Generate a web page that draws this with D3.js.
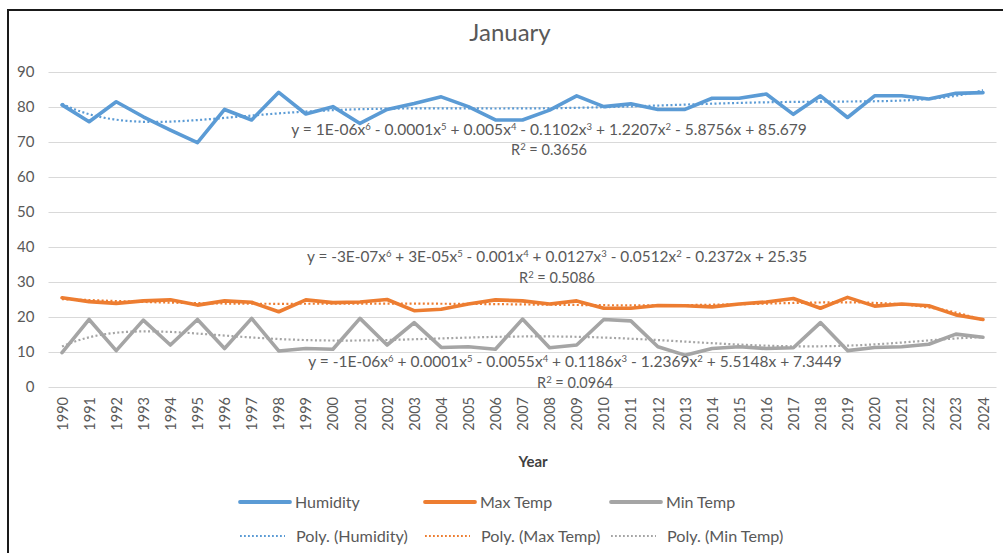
<!DOCTYPE html>
<html><head><meta charset="utf-8">
<script src="https://cdn.jsdelivr.net/npm/d3@7"></script>
<style>
html,body{margin:0;padding:0;background:#fff;}
svg{display:block;font-family:Lato,"Open Sans",sans-serif;}
</style></head>
<body>
<svg id="chart" width="1003" height="553"></svg>
<script>
const years = [1990,1991,1992,1993,1994,1995,1996,1997,1998,1999,2000,2001,2002,2003,2004,2005,2006,2007,2008,2009,2010,2011,2012,2013,2014,2015,2016,2017,2018,2019,2020,2021,2022,2023,2024];
const humidity = [80.6,75.8,81.5,77.2,73.4,69.8,79.3,76.3,84.2,78,80.1,75.3,79.3,81,82.9,80.1,76.3,76.3,79.1,83.2,80.1,80.9,79.3,79.3,82.5,82.5,83.7,77.9,83.2,77,83.2,83.2,82.3,83.9,84.1];
const maxTemp = [25.5,24.4,23.9,24.6,24.9,23.4,24.6,24.2,21.5,24.9,24.1,24.3,25,21.8,22.2,23.7,24.9,24.6,23.7,24.6,22.5,22.5,23.3,23.2,22.9,23.7,24.3,25.3,22.5,25.6,23.1,23.7,23.2,20.6,19.3];
const minTemp = [9.8,19.3,10.4,19.1,12,19.3,11,19.6,10.3,11,10.8,19.6,12,18.4,11.3,11.5,10.8,19.4,11.2,12,19.3,18.9,11.5,9.1,11,11.5,11,11.2,18.4,10.4,11.3,11.5,12.2,15.1,14.2];
const yTicks = [0,10,20,30,40,50,60,70,80,90];
const seriesNames = ["Humidity","Max Temp","Min Temp"];
const trendNames = ["Poly. (Humidity)","Poly. (Max Temp)","Poly. (Min Temp)"];
const colors = ["#5B9BD5","#ED7D31","#A5A5A5"];
const title = "January";
const xTitle = "Year";
// trendline equations as displayed (parts: [text, superscript])
const equations = [
  [["y = 1E-06x","6"],[" - 0.0001x","5"],[" + 0.005x","4"],[" - 0.1102x","3"],[" + 1.2207x","2"],[" - 5.8756x + 85.679",""]],
  [["y = -3E-07x","6"],[" + 3E-05x","5"],[" - 0.001x","4"],[" + 0.0127x","3"],[" - 0.0512x","2"],[" - 0.2372x + 25.35",""]],
  [["y = -1E-06x","6"],[" + 0.0001x","5"],[" - 0.0055x","4"],[" + 0.1186x","3"],[" - 1.2369x","2"],[" + 5.5148x + 7.3449",""]]
];
const r2 = ["0.3656","0.5086","0.0964"];

const data = [humidity, maxTemp, minTemp];
const svg = d3.select("#chart");
const plot = {left:48.5, right:996.5, top:72, bottom:387};

svg.append("rect").attr("width",1003).attr("height",553).attr("fill","#fff");
svg.append("path").attr("d","M8,553V10H1003").attr("fill","none").attr("stroke","#1a1a1a").attr("stroke-width",2);

const x = d3.scalePoint().domain(years).range([plot.left, plot.right]).padding(0.5);
const y = d3.scaleLinear().domain([0,90]).range([plot.bottom, plot.top]);

// y axis + gridlines
const ya = svg.append("g").attr("transform",`translate(${plot.left},0)`)
  .call(d3.axisLeft(y).tickValues(yTicks).tickSize(-(plot.right-plot.left)).tickPadding(14));
ya.select(".domain").remove();
ya.selectAll(".tick line").attr("stroke","#d9d9d9").attr("stroke-width",1);
ya.selectAll(".tick text").attr("fill","#595959").attr("font-size","15px").attr("font-family","Lato");

// x axis
const xa = svg.append("g").attr("transform",`translate(0,${plot.bottom})`)
  .call(d3.axisBottom(x).tickSize(0).tickPadding(0));
xa.select(".domain").remove();
xa.selectAll(".tick text")
  .attr("fill","#595959").attr("font-size","14.5px").attr("font-family","Lato")
  .attr("transform","rotate(-90)")
  .attr("text-anchor","end").attr("x",-10).attr("y",0).attr("dy","0.35em");

// title
svg.append("text").attr("x",510).attr("y",33).attr("dy","0.35em").attr("text-anchor","middle")
  .attr("fill","#595959").attr("font-size","24px").text(title);
svg.append("text").attr("x",533).attr("y",462).attr("dy","0.35em").attr("text-anchor","middle")
  .attr("fill","#404040").attr("font-size","15px").attr("font-weight","bold").text(xTitle);

// series lines
const line = d3.line().x((d,i)=>x(years[i])).y(d=>y(d));
data.forEach((s,k)=>{
  svg.append("path").datum(s).attr("d",line).attr("fill","none")
    .attr("stroke",colors[k]).attr("stroke-width",3.6).attr("stroke-linejoin","round").attr("stroke-linecap","round");
});

// polynomial (order 6) least squares trendlines
function polyfit(ys, deg){
  const n = ys.length, c = (n+1)/2, h = (n-1)/2;
  const m = deg+1;
  const A = Array.from({length:m},()=>new Array(m).fill(0));
  const b = new Array(m).fill(0);
  ys.forEach((v,i)=>{
    const u = (i+1-c)/h;
    const p = []; for(let k=0;k<m;k++) p.push(Math.pow(u,k));
    for(let r=0;r<m;r++){ b[r]+=p[r]*v; for(let q=0;q<m;q++) A[r][q]+=p[r]*p[q]; }
  });
  for(let col=0;col<m;col++){
    let piv=col; for(let r=col+1;r<m;r++) if(Math.abs(A[r][col])>Math.abs(A[piv][col])) piv=r;
    [A[col],A[piv]]=[A[piv],A[col]]; [b[col],b[piv]]=[b[piv],b[col]];
    for(let r=0;r<m;r++){ if(r===col) continue; const f=A[r][col]/A[col][col];
      for(let q=col;q<m;q++) A[r][q]-=f*A[col][q]; b[r]-=f*b[col]; }
  }
  const coef = b.map((v,i)=>v/A[i][i]);
  return t=>{ const u=(t-c)/h; let s=0; for(let k=m-1;k>=0;k--) s=s*u+coef[k]; return s; };
}
const xt = d3.scaleLinear().domain([1, years.length]).range([x(years[0]), x(years[years.length-1])]);
const tSamples = d3.range(1, years.length+0.001, 0.1);
data.forEach((s,k)=>{
  const f = polyfit(s,6);
  svg.append("path").datum(tSamples)
    .attr("d", d3.line().x(t=>xt(t)).y(t=>y(f(t))))
    .attr("fill","none").attr("stroke",colors[k]).attr("stroke-width",2.2)
    .attr("stroke-dasharray","2 2.4");
});

// equations
const eqPos = [{cx:549,ey:130,ry:150},{cx:557,ey:257,ry:278},{cx:575,ey:362,ry:383}];
const eqWidth = [518, 502, 536];
equations.forEach((eq,k)=>{
  const t = svg.append("text").attr("x",eqPos[k].cx).attr("y",eqPos[k].ey).attr("dy","0.35em")
    .attr("text-anchor","middle").attr("fill","#595959").attr("font-size","14.5px");
  eq.forEach(([a,sup])=>{
    t.append("tspan").text(a);
    if(sup) t.append("tspan").attr("font-size","9.5px").attr("baseline-shift","super").text(sup);
  });
  const w = t.node().getComputedTextLength();
  t.attr("font-size", (14.5*eqWidth[k]/w).toFixed(2)+"px");
  const r = svg.append("text").attr("x",eqPos[k].cx).attr("y",eqPos[k].ry).attr("dy","0.35em")
    .attr("text-anchor","middle").attr("fill","#595959").attr("font-size","14.5px");
  r.append("tspan").text("R");
  r.append("tspan").attr("font-size","9.5px").attr("baseline-shift","super").text("2");
  r.append("tspan").text(" = "+r2[k]);
});

// legend
const legX = [240, 425, 611];
const legY = [502, 536];
seriesNames.forEach((nm,k)=>{
  svg.append("line").attr("x1",legX[k]).attr("x2",legX[k]+50).attr("y1",legY[0]).attr("y2",legY[0])
    .attr("stroke",colors[k]).attr("stroke-width",3.8).attr("stroke-linecap","round");
  svg.append("text").attr("x",legX[k]+55).attr("y",legY[0]).attr("dy","0.35em")
    .attr("fill","#595959").attr("font-size","16px").text(nm);
});
trendNames.forEach((nm,k)=>{
  svg.append("line").attr("x1",legX[k]).attr("x2",legX[k]+45).attr("y1",legY[1]).attr("y2",legY[1])
    .attr("stroke",colors[k]).attr("stroke-width",1.8).attr("stroke-dasharray","1.8 2.2");
  svg.append("text").attr("x",legX[k]+56).attr("y",legY[1]).attr("dy","0.35em")
    .attr("fill","#595959").attr("font-size","16.2px").text(nm);
});
</script>
</body></html>
